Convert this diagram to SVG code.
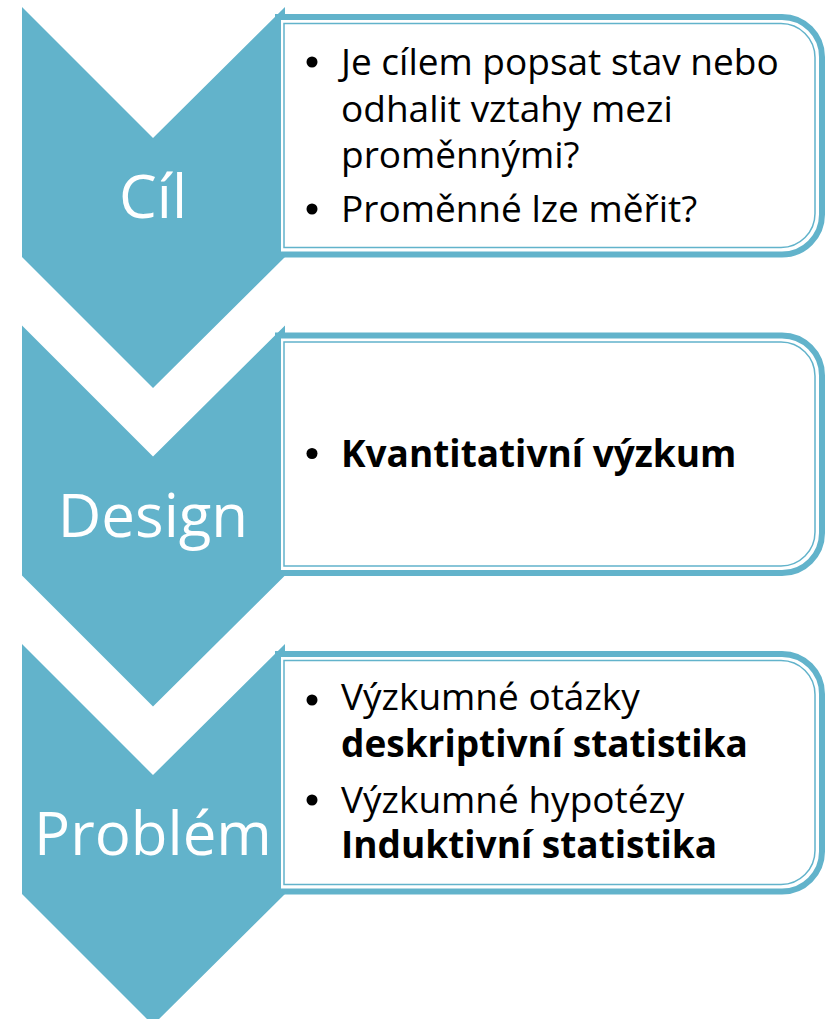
<svg xmlns="http://www.w3.org/2000/svg" xmlns:xlink="http://www.w3.org/1999/xlink" width="827" height="1019" viewBox="0 0 827 1019">
  <style>
    .chev { fill: #62B3CB; }
    .boxOuter { fill: #FFFFFF; stroke: #62B3CB; stroke-width: 6; }
    .boxInner { fill: none; stroke: #62B3CB; stroke-width: 1.5; }
    .label { font-family: "Open Sans", "Noto Sans", sans-serif; font-size: 60px; fill: #FFFFFF; text-anchor: middle; }
    .item { font-family: "Open Sans", "Noto Sans", sans-serif; font-size: 37px; fill: #000000; }
    .bold { font-weight: bold; }
    .bullet { fill: #000000; }
  </style>
  <defs>
    <polygon id="chevron" points="22,7 153,138 285,7 285,257 153,388 22,257"/>
    <path id="outer" d="M278,17 H782 A40,40 0 0 1 822,57 V214.5 A40,40 0 0 1 782,254.5 H278 Z"/>
    <path id="inner" d="M284,23.5 H781 A34,34 0 0 1 815,57.5 V213.5 A34,34 0 0 1 781,247.5 H284 Z"/>
  </defs>

  <g id="node-cil">
    <use xlink:href="#chevron" class="chev"/>
    <text class="label" x="153" y="218">Cíl</text>
  </g>
  <g id="box-cil">
    <use xlink:href="#outer" class="boxOuter"/>
    <use xlink:href="#inner" class="boxInner"/>
    <circle class="bullet" cx="312" cy="62" r="5.5"/>
    <text class="item" x="341" y="75">Je cílem popsat stav nebo</text>
    <text class="item" x="341" y="122">odhalit vztahy mezi</text>
    <text class="item" x="341" y="168">proměnnými?</text>
    <circle class="bullet" cx="312" cy="209" r="5.5"/>
    <text class="item" x="341" y="222">Proměnné lze měřit?</text>
  </g>

  <g id="node-design" transform="translate(0,318.5)">
    <use xlink:href="#chevron" class="chev"/>
    <text class="label" x="153" y="218">Design</text>
  </g>
  <g id="box-design" transform="translate(0,318.5)">
    <use xlink:href="#outer" class="boxOuter"/>
    <use xlink:href="#inner" class="boxInner"/>
    <circle class="bullet" cx="312" cy="135" r="5.5"/>
    <text class="item bold" x="341" y="148">Kvantitativní výzkum</text>
  </g>

  <g id="node-problem" transform="translate(0,637)">
    <use xlink:href="#chevron" class="chev"/>
    <text class="label" x="153" y="218">Problém</text>
  </g>
  <g id="box-problem" transform="translate(0,637)">
    <use xlink:href="#outer" class="boxOuter"/>
    <use xlink:href="#inner" class="boxInner"/>
    <circle class="bullet" cx="312" cy="63" r="5.5"/>
    <text class="item" x="341" y="73">Výzkumné otázky</text>
    <text class="item bold" x="341" y="120">deskriptivní statistika</text>
    <circle class="bullet" cx="312" cy="163" r="5.5"/>
    <text class="item" x="341" y="176">Výzkumné hypotézy</text>
    <text class="item bold" x="341" y="221">Induktivní statistika</text>
  </g>
</svg>
